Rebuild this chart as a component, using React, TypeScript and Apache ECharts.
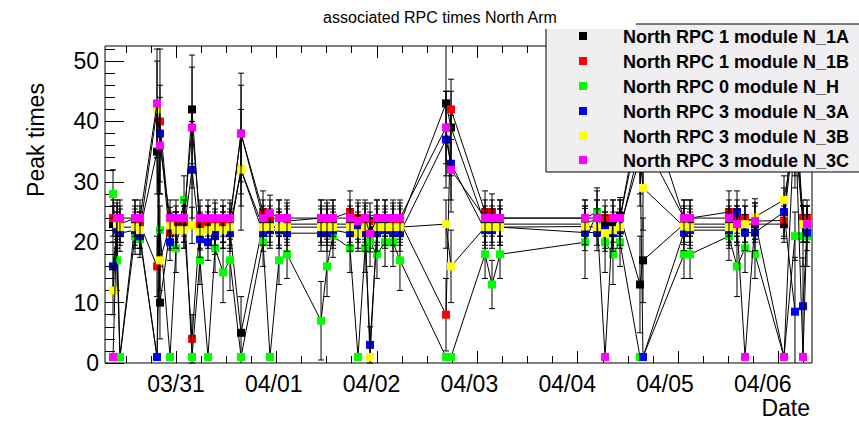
import React, { useEffect, useRef } from "react";
import * as echarts from "echarts";

// Run start times, in days counted from 03/30 00:00
const RUN_DAYS = [
  0.356, 0.397, 0.427, 0.581, 0.632, 0.806, 0.836, 0.939, 1.0, 1.082,
  1.164, 1.245, 1.327, 1.399, 1.481, 1.552, 1.665, 1.89, 1.961, 2.053,
  2.135, 2.483, 2.544, 2.605, 2.779, 2.861, 2.933, 2.984, 3.055, 3.137,
  3.219, 3.29, 3.761, 3.812, 4.16, 4.231, 4.313, 5.182, 5.305, 5.387,
  5.468, 5.54, 5.744, 5.775, 6.194, 6.256, 6.654, 6.736, 6.818, 6.92,
  7.217, 7.329, 7.411, 7.452,
];

// Peak times per module, one value per run
const N_1A = [
  23, 22, 1, 23, 22, 35, 10, 22, 22, 23,
  42, 22, 23, 22, 23, 22, 5, 23, 23, 22,
  23, 23, 23, 23, 23, 23, 23, 22, 23, 23,
  23, 23, 43, 39, 23, 23, 23, 23, 24, 23,
  23, 24.4, 13, 17, 23, 23, 23, 23, 23, 23,
  23, 46, 23, 23,
];
const N_1B = [
  24, 23.5, 23, 24, 23, 16, 40, 21.7, 23, 23,
  4, 23, 23, 23.5, 23, 23.5, 38, 25, 24, 24,
  23.5, 24, 23.5, 24, 25, 24, 23.5, 23.5, 24, 24,
  23.5, 23.5, 8, 42, 25, 25, 24, 24, 25, 24,
  24, 24, 40, 37, 24, 24, 25, 24, 24, 23.5,
  23.6, 40, 24, 24,
];
const N_H = [
  28, 17, 1, 21, 20.5, 1, 22, 1, 19, 27,
  1, 17, 1, 19, 15, 17, 1, 20, 1, 17,
  18, 7, 16, 21, 19, 1, 19, 20, 18, 20,
  20, 17, 1, 1, 18, 13, 18, 20, 25, 20,
  18, 20, 1, 1, 18, 18, 21, 16, 19, 18,
  1, 21, 21, 21,
];
const N_3A = [
  16, 22, 21.5, 22, 21, 1, 38, 20, 22, 22,
  32, 20.5, 20, 21, 22, 21.5, 32, 21.5, 22, 22,
  21.5, 21.5, 21.5, 22, 21.5, 22, 21.5, 3, 21.5, 22,
  21.5, 21.5, 37, 33, 22, 22, 22.5, 21.6, 21.6, 22,
  21.5, 22, 36, 1, 21.6, 22, 22, 25, 21.6, 21.6,
  25, 8.5, 9.4, 21.6,
];
const N_3B = [
  12, 23, 22.5, 22.5, 22, 42, 17, 22.8, 22, 22,
  22.8, 21.7, 22, 22.5, 22, 22.5, 32, 22.5, 22.5, 22.5,
  22.5, 22.5, 22.5, 22.5, 22.5, 21.5, 22.5, 1, 22.5, 22.5,
  22.5, 22.5, 23, 16, 22.5, 22.5, 22.5, 22.6, 22.5, 21.5,
  22, 22.5, 34, 29, 22.6, 22.5, 22.5, 22.5, 23, 24.2,
  27, 38, 23, 23,
];
const N_3C = [
  1, 24, 24, 24, 24, 43, 36, 24, 24, 24,
  39, 24, 24, 24, 24, 24, 38, 24, 24.8, 24,
  24, 24, 24, 24, 24, 23.5, 24, 21.4, 24, 24,
  24, 24, 39, 32, 24, 24, 24, 24, 24, 1,
  24, 24, 42, 45, 24, 24, 24, 23, 1, 23.5,
  1, 42, 1, 23,
];

// Uncertainty on each peak time
const ERR_1A = [
  3, 3, 0, 3, 3, 7, 6, 3, 3, 3,
  9, 3, 3, 3, 3, 3, 6, 3, 3, 3,
  3, 3, 3, 3, 3, 3, 3, 3, 3, 3,
  3, 3, 12, 8, 3, 3, 3, 3, 3, 3,
  3, 3, 8, 7, 3, 3, 3, 3, 3, 3,
  3, 9, 3, 3,
];
const ERR_1B = [
  3, 3, 3, 3, 3, 5, 12, 3, 3, 3,
  4, 3, 3, 3, 3, 3, 8, 3.5, 3, 3,
  3, 3, 3, 3, 3.5, 3, 3, 3, 3, 3,
  3, 3, 6, 3, 3.5, 3, 3, 3, 3.5, 3,
  3, 3, 8, 8, 3, 3, 3.5, 3, 3, 3,
  3, 9, 3, 3,
];
const ERR_H = [
  4, 5, 0, 3, 3, 0, 4, 0, 4, 4,
  0, 4, 0, 4, 5, 5, 0, 4, 0, 4,
  4, 6.5, 5, 3.5, 4, 0, 4, 4, 4, 4,
  4, 5, 0, 0, 4, 4, 4, 6, 4, 5,
  5, 4, 0, 0, 4, 4, 4, 5, 4, 4,
  0, 4, 5, 5,
];
const ERR_3A = [
  4, 3, 3, 3, 3, 0, 8, 3, 3, 3,
  8, 3, 3, 3, 3, 3, 6, 3, 3, 3,
  3, 3, 3, 3, 3, 3, 3, 3, 3, 3,
  3, 3, 8, 8, 3, 3, 3, 3, 3, 3,
  3, 3, 8, 0, 3, 3, 3, 3.5, 3, 3,
  4, 9, 8, 3,
];
const ERR_3B = [
  4, 3, 3, 3, 3, 8, 5, 3, 3, 3,
  3, 3, 3, 3, 3, 3, 10, 3, 3, 3,
  3, 3, 3, 3, 3, 3, 3, 0, 3, 3,
  3, 3, 4, 6, 3, 3, 3, 3, 3, 3,
  3, 3, 8, 7, 3, 3, 3, 3, 3, 3,
  4, 9, 3, 3,
];
const ERR_3C = [
  0, 3, 3, 3, 3, 9, 8, 3, 3, 3,
  10, 3, 3, 3, 3, 3, 10, 3, 3, 3,
  3, 3, 3, 3, 3, 3, 3, 3, 3, 3,
  3, 3, 6, 5, 3, 3, 3, 3, 3, 0,
  3, 3, 9, 8, 3, 3, 3, 3, 0, 3,
  0, 9, 0, 3,
];

const MODULE_NAMES = [
  "North RPC 1 module N_1A",
  "North RPC 1 module N_1B",
  "North RPC 0 module N_H",
  "North RPC 3 module N_3A",
  "North RPC 3 module N_3B",
  "North RPC 3 module N_3C",
];
const MODULE_COLORS = ["#000000", "#ff0000", "#00ff00", "#0000ff", "#ffff00", "#ff00ff"];
const MODULE_VALUES = [N_1A, N_1B, N_H, N_3A, N_3B, N_3C];
const MODULE_ERRORS = [ERR_1A, ERR_1B, ERR_H, ERR_3A, ERR_3B, ERR_3C];

// Date axis labels, placed at midnight of each day
const DATE_LABEL_DAYS = [1, 2, 3, 4, 5, 6, 7];
const DATE_LABELS = ["03/31", "04/01", "04/02", "04/03", "04/04", "04/05", "04/06"];
const Y_LABELS = [0, 10, 20, 30, 40, 50];

const X_MIN = 0.274;
const X_MAX = 7.503;
const Y_MAX = 52.5;
const TICK_STEP = 0.2567;

const FONT = "'Liberation Sans', Arial, Helvetica, sans-serif";

export default function App() {
  const ref = useRef<HTMLDivElement>(null);

  useEffect(() => {
    if (!ref.current) return;
    const chart = echarts.init(ref.current, undefined, { renderer: "svg" });

    const majorX: number[] = [];
    const minorX: number[] = [];
    for (let k = -3; k <= 26; k++) {
      const v = 1 + k * TICK_STEP;
      if (v <= X_MIN || v >= X_MAX) continue;
      if (k % 4 === 0) majorX.push(v);
      else minorX.push(v);
    }
    const minorY: number[] = [];
    for (let v = 2; v < Y_MAX; v += 2) if (v % 10 !== 0) minorY.push(v);

    const series: any[] = [];
    MODULE_VALUES.forEach((vals, i) => {
      const errs = MODULE_ERRORS[i];
      const errData = RUN_DAYS.map((t, j) => [t, vals[j] - errs[j], vals[j] + errs[j], errs[j]]).filter(
        (d) => d[3] > 0
      );
      series.push({
        type: "custom",
        name: MODULE_NAMES[i] + " err",
        coordinateSystem: "cartesian2d",
        xAxisIndex: 0,
        yAxisIndex: 0,
        z: 10 + i * 2,
        silent: true,
        encode: { x: 0, y: [1, 2] },
        data: errData,
        renderItem: (params: any, api: any) => {
          const x = api.value(0);
          const lo = api.value(1);
          const hi = api.value(2);
          const top = api.coord([x, Math.min(hi, Y_MAX)]);
          const bot = api.coord([x, Math.max(lo, 0)]);
          const cap = 3;
          const st = { stroke: "#000", lineWidth: 1 };
          const children: any[] = [
            { type: "line", shape: { x1: top[0], y1: top[1], x2: bot[0], y2: bot[1] }, style: st },
          ];
          if (hi <= Y_MAX)
            children.push({
              type: "line",
              shape: { x1: top[0] - cap, y1: top[1], x2: top[0] + cap, y2: top[1] },
              style: st,
            });
          if (lo >= 0)
            children.push({
              type: "line",
              shape: { x1: bot[0] - cap, y1: bot[1], x2: bot[0] + cap, y2: bot[1] },
              style: st,
            });
          return { type: "group", children };
        },
      });
      series.push({
        type: "line",
        name: MODULE_NAMES[i],
        xAxisIndex: 0,
        yAxisIndex: 0,
        z: 11 + i * 2,
        data: RUN_DAYS.map((t, j) => [t, vals[j]]),
        symbol: "rect",
        symbolSize: 8,
        showAllSymbol: true,
        silent: true,
        lineStyle: { color: "#000000", width: 1 },
        itemStyle: { color: MODULE_COLORS[i], borderWidth: 0 },
        emphasis: { disabled: true },
      });
    });

    const legendRowY = [36, 61, 86, 111, 136, 160];
    const graphic: any[] = [
      {
        type: "rect",
        z: 100,
        shape: { x: 546, y: 24, width: 330, height: 148 },
        style: { fill: "#f1eef1", stroke: "#000", lineWidth: 1 },
      },
    ];
    MODULE_NAMES.forEach((name, i) => {
      graphic.push({
        type: "rect",
        z: 101,
        shape: { x: 579, y: legendRowY[i] - 4, width: 8, height: 8 },
        style: { fill: MODULE_COLORS[i] },
      });
      graphic.push({
        type: "text",
        z: 101,
        x: 623,
        y: legendRowY[i] + 1,
        style: {
          text: name,
          fill: "#000",
          font: `bold 18px ${FONT}`,
          verticalAlign: "middle",
          align: "left",
        },
      });
    });
    graphic.push(
      {
        type: "rect",
        z: 102,
        shape: { x: 250, y: 0, width: 386, height: 29 },
        style: { fill: "#ffffff" },
      },
      {
        type: "text",
        z: 103,
        x: 440,
        y: 17,
        style: {
          text: "associated RPC times North Arm",
          fill: "#000",
          font: `16px ${FONT}`,
          align: "center",
          verticalAlign: "middle",
        },
      },
      {
        type: "text",
        z: 103,
        x: 36,
        y: 140,
        rotation: Math.PI / 2,
        style: {
          text: "Peak times",
          fill: "#000",
          font: `23px ${FONT}`,
          align: "center",
          verticalAlign: "middle",
        },
      },
      {
        type: "text",
        z: 103,
        x: 810,
        y: 408,
        style: {
          text: "Date",
          fill: "#000",
          font: `23px ${FONT}`,
          align: "right",
          verticalAlign: "middle",
        },
      }
    );

    const baseX = {
      type: "value",
      min: X_MIN,
      max: X_MAX,
      gridIndex: 0,
      splitLine: { show: false },
      axisLine: { show: false, onZero: false },
    };
    const baseY = {
      type: "value",
      min: 0,
      max: Y_MAX,
      gridIndex: 0,
      splitLine: { show: false },
      axisLine: { show: false, onZero: false },
    };

    chart.setOption({
      animation: false,
      backgroundColor: "#ffffff",
      grid: {
        left: 105,
        top: 46,
        width: 707,
        height: 317,
        show: true,
        borderColor: "#000",
        borderWidth: 1,
        backgroundColor: "transparent",
      },
      xAxis: [
        {
          ...baseX,
          position: "bottom",
          axisTick: { show: true, inside: true, length: 12, customValues: majorX, lineStyle: { color: "#000" } },
          axisLabel: {
            show: true,
            customValues: DATE_LABEL_DAYS,
            formatter: (v: number) => DATE_LABELS[DATE_LABEL_DAYS.indexOf(Math.round(v))] ?? "",
            fontSize: 23,
            fontFamily: FONT,
            color: "#000",
            margin: 9,
          },
        },
        {
          ...baseX,
          position: "bottom",
          axisTick: { show: true, inside: true, length: 7, customValues: minorX, lineStyle: { color: "#000" } },
          axisLabel: { show: false },
        },
        {
          ...baseX,
          position: "top",
          axisTick: { show: true, inside: true, length: 12, customValues: majorX, lineStyle: { color: "#000" } },
          axisLabel: { show: false },
        },
        {
          ...baseX,
          position: "top",
          axisTick: { show: true, inside: true, length: 7, customValues: minorX, lineStyle: { color: "#000" } },
          axisLabel: { show: false },
        },
      ],
      yAxis: [
        {
          ...baseY,
          position: "left",
          axisTick: { show: true, inside: true, length: 19, customValues: Y_LABELS, lineStyle: { color: "#000" } },
          axisLabel: {
            show: true,
            customValues: Y_LABELS,
            fontSize: 23,
            fontFamily: FONT,
            color: "#000",
            margin: 6,
          },
        },
        {
          ...baseY,
          position: "left",
          axisTick: { show: true, inside: true, length: 10, customValues: minorY, lineStyle: { color: "#000" } },
          axisLabel: { show: false },
        },
      ],
      series,
      graphic,
    });

    return () => chart.dispose();
  }, []);

  return (
    <div
      ref={ref}
      style={{ position: "fixed", left: 0, top: 0, width: 859, height: 421, background: "#fff" }}
    />
  );
}
